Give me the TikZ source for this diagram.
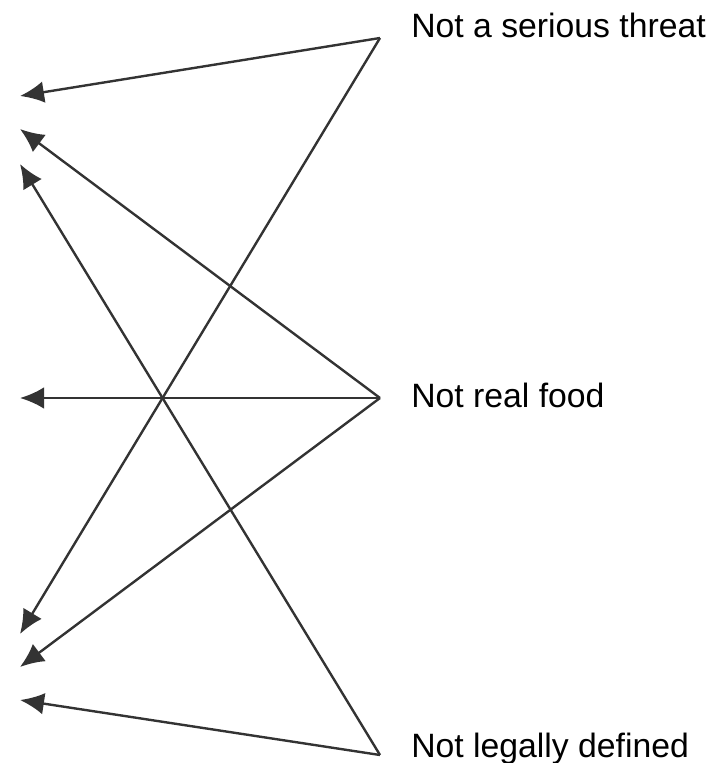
\documentclass[tikz,border=0pt]{standalone}
\usepackage{fontspec}
\setmainfont{Liberation Sans}
\usetikzlibrary{arrows.meta}
\tikzset{
  link/.style={-{Latex[length=6mm,width=5.4mm]}, line width=1.7pt, draw=black!80},
  claim/.style={anchor=base west, inner sep=0pt, font=\fontsize{24}{28}\selectfont}
}

\begin{document}
\begin{tikzpicture}[x=0.025cm, y=-0.025cm]
  \useasboundingbox (0,0) rectangle (724,763);
  % sources
  \coordinate (threat) at (380,38);
  \coordinate (food) at (380,398);
  \coordinate (legal) at (380,755);
  \node[claim] (threatlbl) at (411,37) {Not a serious threat};
  \node[claim] (foodlbl) at (411,407) {Not real food};
  \node[claim] (legallbl) at (411,757) {Not legally defined};
  % targets on the left
  \coordinate (t1) at (20,96);
  \coordinate (t2) at (20,129);
  \coordinate (t3) at (20,164);
  \coordinate (t4) at (20,398);
  \coordinate (t5) at (20,634);
  \coordinate (t6) at (20,667);
  \coordinate (t7) at (20,700);
  \draw[link] (threat) -- (t1);
  \draw[link] (threat) -- (t5);
  \draw[link] (food) -- (t2);
  \draw[link] (food) -- (t4);
  \draw[link] (food) -- (t6);
  \draw[link] (legal) -- (t3);
  \draw[link] (legal) -- (t7);
\end{tikzpicture}
\end{document}
